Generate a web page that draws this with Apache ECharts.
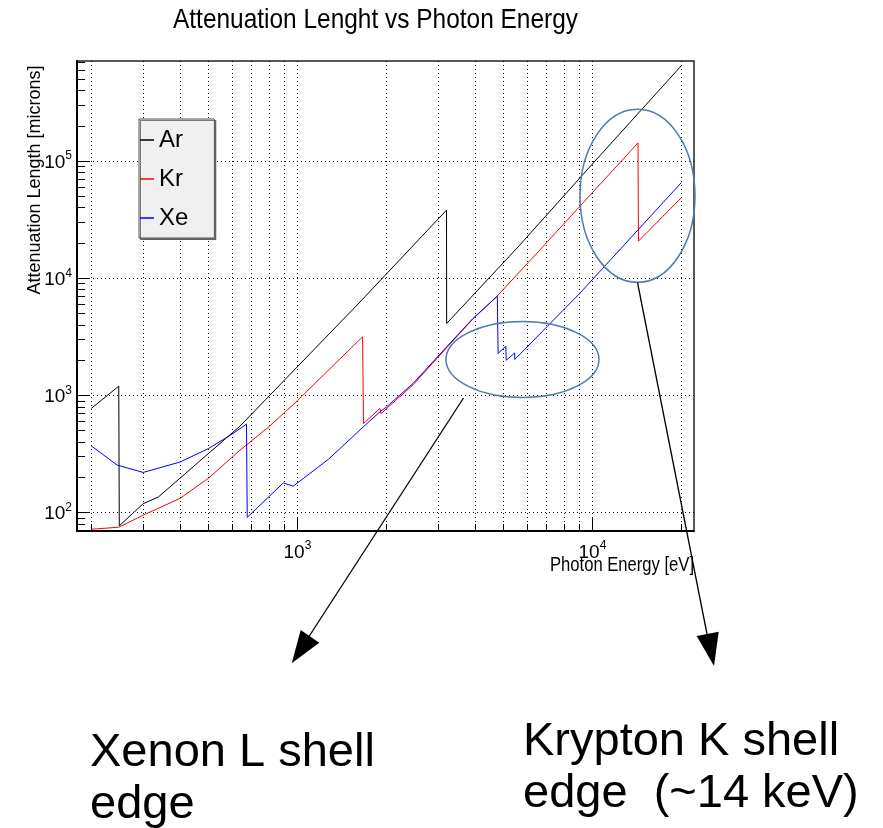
<!DOCTYPE html>
<html>
<head>
<meta charset="utf-8">
<script src="https://cdn.jsdelivr.net/npm/echarts@6/dist/echarts.min.js"></script>
<style>
  html, body { margin: 0; padding: 0; background: #fff; }
  #chart { width: 883px; height: 828px; }
</style>
</head>
<body>
<div id="chart"></div>
<script>
// photon energy [eV] -> attenuation length [microns]
const arEnergy = [200, 248, 249, 300, 338, 638, 896, 1628, 3202, 3206, 5598, 10277, 20000];
const arLength = [773, 1199, 77, 119, 136, 545, 1320, 6250, 38150, 4111, 18500, 102000, 650000];

const krEnergy = [200, 248, 300, 400, 500, 638, 800, 1000, 1176, 1663, 1675, 1904, 1921, 2466, 3205, 3937, 4733, 6630, 14275, 14326, 20000];
const krLength = [72, 75, 95, 132, 197, 340, 540, 900, 1349, 3160, 575, 773, 700, 1230, 2550, 4500, 6950, 17400, 143000, 20750, 48600];

const xeEnergy = [200, 245, 300, 400, 500, 600, 672, 676, 896, 968, 1272, 1671, 1904, 2005, 2466, 3205, 3937, 4760, 4790, 5086, 5104, 5453, 5456, 9057, 20000];
const xeLength = [371, 254, 220, 270, 352, 467, 568, 91, 179, 168, 284, 538, 723, 798, 1265, 2594, 4540, 7030, 2281, 2630, 1995, 2307, 2028, 7420, 65300];

const seriesNames = ['Ar', 'Kr', 'Xe'];
const seriesColors = ['#000000', '#ff0000', '#0000ff'];

// axis ranges and ticks
const xMin = 179, xMax = 22100;
const yMin = 69.6, yMax = 715000;
const xMajorTicks = [1000, 10000];
const yMajorTicks = [100, 1000, 10000, 100000];
const mantissas = [1, 2, 3, 4, 5, 6, 7, 8, 9];
const xDecades = [100, 1000, 10000];
const yDecades = [10, 100, 1000, 10000, 100000];

function minorTicks(decades, lo, hi) {
  const out = [];
  decades.forEach(d => mantissas.forEach(m => {
    const v = d * m;
    if (v >= lo && v <= hi) out.push(v);
  }));
  return out;
}
const xMinorTicks = minorTicks(xDecades, xMin, xMax);
const yMinorTicks = minorTicks(yDecades, yMin, yMax);

const SANS = "'Liberation Sans', Arial, sans-serif";

function zip(xs, ys) {
  return xs.map((x, i) => [x, ys[i]]);
}

const powLabel = {
  formatter(v) {
    return '{b|10}{s|' + Math.round(Math.log10(v)) + '}';
  },
  rich: {
    b: {fontSize: 19, fontFamily: SANS, color: '#000', lineHeight: 22, verticalAlign: 'bottom'},
    s: {fontSize: 12, fontFamily: SANS, color: '#000', lineHeight: 12, verticalAlign: 'top'}
  }
};

const dotted = {color: '#000', width: 1, type: [1, 3]};

const chart = echarts.init(document.getElementById('chart'));
chart.setOption({
  animation: false,
  backgroundColor: '#fff',
  grid: {
    left: 77, right: 189, top: 61, bottom: 297,
    show: true, borderColor: '#222', borderWidth: 1.5,
    outerBoundsMode: 'none'
  },
  legend: {
    orient: 'vertical', left: 139, top: 119,
    padding: [9, 26, 8, 1], itemGap: 15,
    icon: 'rect', itemWidth: 14, itemHeight: 1.5,
    backgroundColor: '#f0f0f0', borderColor: '#555', borderWidth: 1,
    shadowColor: 'rgba(0,0,0,0.5)', shadowOffsetX: 1.5, shadowOffsetY: 1.5,
    textStyle: {fontSize: 24, fontFamily: SANS, color: '#000', lineHeight: 24},
    data: seriesNames
  },
  xAxis: [{
    type: 'log', min: xMin, max: xMax, position: 'bottom',
    axisLine: {show: true, lineStyle: {color: '#000', width: 2}},
    axisTick: {show: true, inside: true, length: 7, customValues: xMinorTicks, lineStyle: {color: '#000'}},
    axisLabel: {show: false},
    splitLine: {show: true, lineStyle: dotted}
  }, {
    type: 'log', min: xMin, max: xMax, position: 'bottom',
    axisLine: {show: false},
    axisTick: {show: true, inside: true, length: 14, customValues: xMajorTicks, lineStyle: {color: '#000'}},
    axisLabel: Object.assign({show: true, margin: 9, customValues: xMajorTicks}, powLabel),
    splitLine: {show: false}
  }],
  yAxis: [{
    type: 'log', min: yMin, max: yMax, position: 'left',
    axisLine: {show: true, lineStyle: {color: '#000', width: 2}},
    axisTick: {show: true, inside: true, length: 8, customValues: yMinorTicks, lineStyle: {color: '#000'}},
    axisLabel: {show: false},
    splitLine: {show: false}
  }, {
    type: 'log', min: yMin, max: yMax, position: 'left',
    axisLine: {show: false},
    axisTick: {show: true, inside: true, length: 13, customValues: yMajorTicks, lineStyle: {color: '#000'}},
    axisLabel: Object.assign({show: true, margin: 5, customValues: yMajorTicks}, powLabel),
    splitLine: {show: true, lineStyle: dotted}
  }],
  series: [
    {name: 'Ar', data: zip(arEnergy, arLength)},
    {name: 'Kr', data: zip(krEnergy, krLength)},
    {name: 'Xe', data: zip(xeEnergy, xeLength)}
  ].map((s, i) => Object.assign({
    type: 'line', xAxisIndex: 0, yAxisIndex: 0,
    symbol: 'none', showSymbol: false,
    color: seriesColors[i],
    lineStyle: {width: 1, color: seriesColors[i]},
    emphasis: {disabled: true}
  }, s)),
  graphic: [
    // title and axis titles (ROOT canvas text is a bit condensed)
    {type: 'text', x: 173, y: 6, scaleX: 0.873,
      style: {text: 'Attenuation Lenght vs Photon Energy', font: '28px ' + SANS, fill: '#000', verticalAlign: 'top'}},
    {type: 'text', x: 35, y: 180, rotation: Math.PI / 2,
      style: {text: 'Attenuation Length [microns]', font: '18px ' + SANS, fill: '#000', align: 'center', verticalAlign: 'middle'}},
    {type: 'text', x: 694, y: 565, scaleX: 0.83,
      style: {text: 'Photon Energy [eV]', font: '20px ' + SANS, fill: '#000', align: 'right', verticalAlign: 'middle'}},
    // annotation ellipses
    {type: 'ellipse', shape: {cx: 522.5, cy: 359.5, rx: 76.5, ry: 38},
      style: {fill: 'none', stroke: '#4f7cb0', lineWidth: 1.5}, z: 20},
    {type: 'ellipse', shape: {cx: 637.5, cy: 195.8, rx: 57.5, ry: 86.5},
      style: {fill: 'none', stroke: '#4f7cb0', lineWidth: 1.5}, z: 20},
    // arrows
    {type: 'line', shape: {x1: 463.5, y1: 398, x2: 308, y2: 638},
      style: {stroke: '#000', lineWidth: 1.3}, z: 20},
    {type: 'polygon', shape: {points: [[300.7, 630], [319.3, 642.7], [291.7, 663.3]]},
      style: {fill: '#000'}, z: 20},
    {type: 'line', shape: {x1: 637.5, y1: 282.5, x2: 707, y2: 634},
      style: {stroke: '#000', lineWidth: 1.3}, z: 20},
    {type: 'polygon', shape: {points: [[696.7, 636], [718.7, 631.7], [714, 666]]},
      style: {fill: '#000'}, z: 20},
    // annotation texts
    {type: 'text', x: 90, y: 727,
      style: {text: 'Xenon L shell\nedge', font: '47px ' + SANS, lineHeight: 52, fill: '#000', verticalAlign: 'top'}},
    {type: 'text', x: 523, y: 716.5,
      style: {text: 'Krypton K shell\nedge  (~14 keV)', font: '47px ' + SANS, lineHeight: 52, fill: '#000', verticalAlign: 'top'}}
  ]
});
</script>
</body>
</html>
